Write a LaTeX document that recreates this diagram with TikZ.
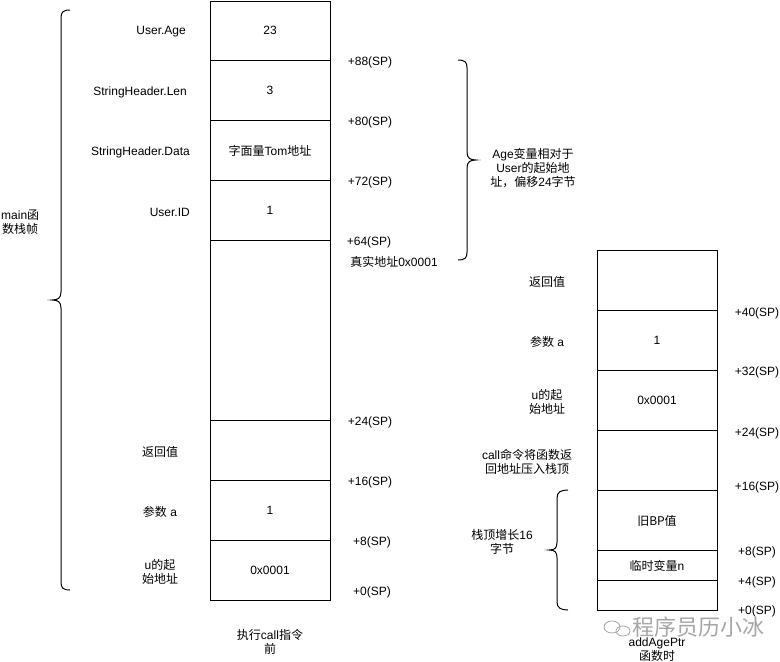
\documentclass[tikz,border=0pt]{standalone}
\usepackage{fontspec}
\setmainfont{Liberation Sans}
\newfontfamily\cjk{Noto Sans CJK SC}
\newcommand{\fs}{\fontsize{12}{14}\selectfont}
\begin{document}
\begin{tikzpicture}[x=1pt,y=-1pt,
  cell/.style={draw, line width=1pt, minimum width=120pt, inner sep=0pt, anchor=north, font=\fs},
  lbl/.style={font=\fs, align=center, inner sep=0pt},
  brace/.style={draw, line width=1pt}]
\useasboundingbox (0,0) rectangle (780,662);
% left stack
\node[cell, minimum height=59.5pt] (c1) at (270,0.5) {23};
\node[cell, minimum height=60pt] (c2) at (270,60) {3};
\node[cell, minimum height=60pt] (c3) at (270,120) {{\cjk 字面量}Tom{\cjk 地址}};
\node[cell, minimum height=60pt] (c4) at (270,180) {1};
\node[cell, minimum height=180pt] (c5) at (270,240) {};
\node[cell, minimum height=60pt] (c6) at (270,420) {};
\node[cell, minimum height=60pt] (c7) at (270,480) {1};
\node[cell, minimum height=60pt] (c8) at (270,540) {0x0001};
% left labels
\node[lbl, anchor=east] (l1) at (186,32) {User.Age};
\node[lbl, anchor=east] (l2) at (187,92) {StringHeader.Len};
\node[lbl, anchor=east] (l3) at (190,152) {StringHeader.Data};
\node[lbl, anchor=east] (l4) at (190,212) {User.ID};
\node[lbl] (l5) at (160,452) {\cjk 返回值};
\node[lbl] (l6) at (160,512) {{\cjk 参数} a};
\node[lbl] (l7) at (160,572) {u{\cjk 的起}\\{\cjk 始地址}};
% SP labels left stack
\node[lbl] (s88) at (370,62) {+88(SP)};
\node[lbl] (s80) at (370,122) {+80(SP)};
\node[lbl] (s72) at (370,182) {+72(SP)};
\node[lbl] (s64) at (369,242) {+64(SP)};
\node[lbl] (real) at (394,262) {{\cjk 真实地址}0x0001};
\node[lbl] (s24) at (370,422) {+24(SP)};
\node[lbl] (s16) at (370,482) {+16(SP)};
\node[lbl] (s8) at (372,542) {+8(SP)};
\node[lbl] (s0) at (372,592) {+0(SP)};
% main brace
\draw[brace] (70,10) .. controls (63,10) and (61,12) .. (61,18) -- (61,292) .. controls (61,298) and (58,300) .. (52,300) .. controls (58,300) and (61,302) .. (61,308) -- (61,582) .. controls (61,588) and (63,590) .. (70,590);
\node[lbl, anchor=west] (mainf) at (1,222) {main{\cjk 函}\\{\cjk 数栈帧}};
% age brace
\draw[brace] (458,60) .. controls (465,60) and (467,62) .. (467,68) -- (467,152) .. controls (467,158) and (470,160) .. (476,160) .. controls (470,160) and (467,162) .. (467,168) -- (467,252) .. controls (467,258) and (465,260) .. (458,260);
\node[lbl] (agenote) at (533,168) {Age{\cjk 变量相对于}\\User{\cjk 的起始地}\\{\cjk 址，偏移}24{\cjk 字节}};
% right stack
\node[cell, minimum height=60pt] (r1) at (657,250) {};
\node[cell, minimum height=60pt] (r2) at (657,310) {1};
\node[cell, minimum height=60pt] (r3) at (657,370) {0x0001};
\node[cell, minimum height=60pt] (r4) at (657,430) {};
\node[cell, minimum height=60pt] (r5) at (657,490) {\cjk 旧BP值};
\node[cell, minimum height=30pt] (r6) at (657,550) {{\cjk 临时变量}n};
\node[cell, minimum height=30pt] (r7) at (657,580) {};
% right labels
\node[lbl] (rl1) at (547,282) {\cjk 返回值};
\node[lbl] (rl2) at (547,342) {{\cjk 参数} a};
\node[lbl] (rl3) at (547,402) {u{\cjk 的起}\\{\cjk 始地址}};
\node[lbl] (rl4) at (527,462) {call{\cjk 命令将函数返}\\{\cjk 回地址压入栈顶}};
\node[lbl] (rl5) at (502,542) {{\cjk 栈顶增长}16\\{\cjk 字节}};
% SP labels right stack
\node[lbl] (t40) at (757,313) {+40(SP)};
\node[lbl] (t32) at (757,372) {+32(SP)};
\node[lbl] (t24) at (757,433) {+24(SP)};
\node[lbl] (t16) at (757,487) {+16(SP)};
\node[lbl] (t8) at (757,552) {+8(SP)};
\node[lbl] (t4) at (757,582) {+4(SP)};
\node[lbl] (t0) at (757,611) {+0(SP)};
% small brace
\draw[brace] (568,490) .. controls (561,490) and (557,492) .. (557,498) -- (557,542) .. controls (557,548) and (555,550) .. (549,550) .. controls (555,550) and (557,552) .. (557,558) -- (557,602) .. controls (557,608) and (561,610) .. (568,610);
% captions
\node[lbl] (cap1) at (270,642) {{\cjk 执行}call{\cjk 指令}\\{\cjk 前}};
\node[lbl] (cap2) at (657,650) {addAgePtr\\{\cjk 函数时}};
% watermark
\node[lbl, text=black!35, font=\fontsize{22}{24}\selectfont\cjk] (wm) at (698,627) {程序员历小冰};
\draw[black!35, line width=0.8pt] (612,627) ellipse (8pt and 6pt);
\draw[black!35, line width=0.8pt] (623,631) ellipse (7pt and 5pt);
\end{tikzpicture}
\end{document}
